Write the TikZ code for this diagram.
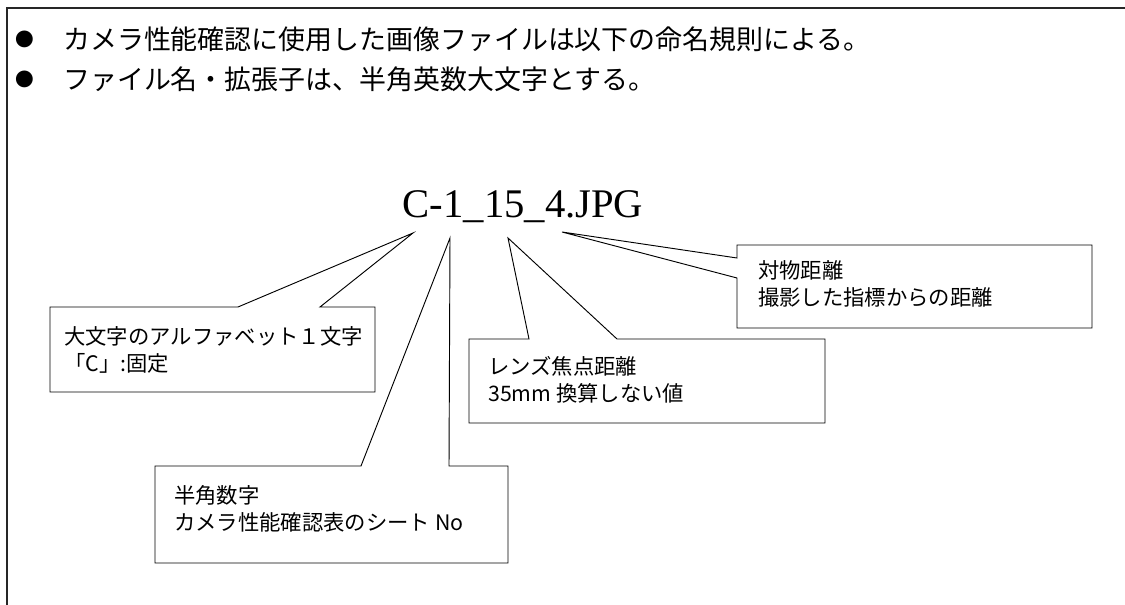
\documentclass[tikz,border=0pt]{standalone}
\usepackage{fontspec}
\setmainfont{Liberation Serif}
\newfontfamily\cjk{Noto Sans CJK JP}
\tikzset{
  frameline/.style={line width=1.5pt, draw=black!85},
  callout/.style={draw=black, line width=0.7pt, fill=white, line join=miter},
  headtext/.style={font=\cjk\fontsize{20.2}{24}\selectfont, anchor=west, inner sep=0pt},
  bullettext/.style={font=\cjk\fontsize{14}{16}\selectfont, anchor=center, inner sep=0pt},
  calltext/.style={font=\cjk\fontsize{16}{20.25}\selectfont, anchor=west, align=left, inner sep=0pt},
  titletext/.style={font=\fontsize{30.5}{36}\selectfont, anchor=base, inner sep=0pt}
}
\begin{document}
\begin{tikzpicture}[x=0.75pt,y=-0.75pt]
\useasboundingbox (0,0) rectangle (1125,605);
% outer frame
\draw[frameline] (7,605) -- (7,8) -- (1125,8);
% header lines
\node[bullettext] (b1) at (25,39) {●};
\node[headtext] (h1) at (63,39) {カメラ性能確認に使用した画像ファイルは以下の命名規則による。};
\node[bullettext] (b2) at (25,79) {●};
\node[headtext] (h2) at (63,79) {ファイル名・拡張子は、半角英数大文字とする。};
% title
\node[titletext] (title) at (523,218) {C-1\_15\_4.JPG};
% tips
\coordinate (t1) at (413,233);
\coordinate (t2) at (450,238);
\coordinate (t3) at (508,238);
\coordinate (t4) at (562,232);
% callout 1
\draw[callout] (50,307) -- (238,307) -- (t1) -- (320,307) -- (375,307) -- (375,392) -- (50,392) -- cycle;
\node[calltext] (c1) at (64,349.5) {大文字のアルファベット１文字\\「C」:固定};
% callout 2
\draw[callout] (155,466) -- (361,466) -- (t2) -- (449,466) -- (508,466) -- (508,563) -- (155,563) -- cycle;
\node[calltext] (c2) at (174,508.5) {半角数字\\カメラ性能確認表のシート No};
% callout 3
\draw[callout] (469,339) -- (529,339) -- (t3) -- (617,339) -- (825,339) -- (825,423) -- (469,423) -- cycle;
\node[calltext] (c3) at (488,379.5) {レンズ焦点距離\\35mm 換算しない値};
% callout 4
\draw[callout] (737,245) -- (1092,245) -- (1092,328) -- (737,328) -- (737,278) -- (t4) -- (737,258) -- cycle;
\node[calltext] (c4) at (758,283.5) {対物距離\\撮影した指標からの距離};
\end{tikzpicture}
\end{document}
